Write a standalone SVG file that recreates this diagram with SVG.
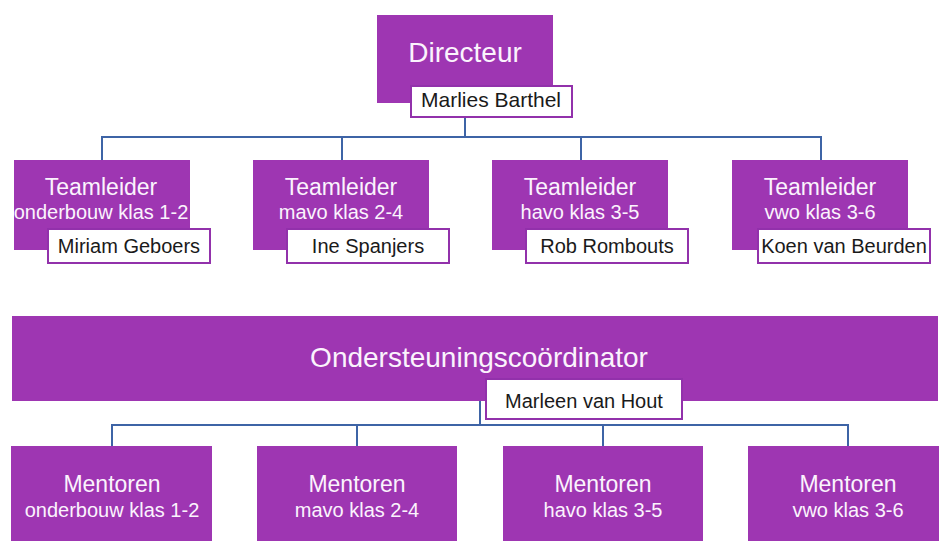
<svg xmlns="http://www.w3.org/2000/svg" width="939" height="541" viewBox="0 0 939 541">
<style>
.box{fill:#9e36b2}
.nb{fill:#ffffff;stroke:#9231ab;stroke-width:2}
.t1{font-family:"Liberation Sans",Arial,sans-serif;font-size:23px;fill:#fbf3fd;text-anchor:middle}
.t2{font-family:"Liberation Sans",Arial,sans-serif;font-size:20px;fill:#fbf3fd;text-anchor:middle}
.nm{font-family:"Liberation Sans",Arial,sans-serif;font-size:20px;fill:#1a1a1a;text-anchor:middle}
.big{font-family:"Liberation Sans",Arial,sans-serif;font-size:28px;fill:#fbf3fd;text-anchor:middle}
.cn{fill:none;stroke:#3e64a6;stroke-width:2}
</style>
<rect width="939" height="541" fill="#ffffff"/>
<g id="connectors">
<path class="cn" d="M465 117V137M102 160V137H821V160M342 137V160M581 137V160"/>
<path class="cn" d="M480 401V425M112 446V425H848V446M357 425V446M603 425V446"/>
</g>
<g id="directeur">
<rect class="box" x="377" y="15" width="176" height="88"/>
<text class="big" x="465" y="62" font-size="27">Directeur</text>
<rect class="nb" x="411" y="86" width="161" height="31"/>
<text class="nm" x="491" y="107" style="font-size:21px">Marlies Barthel</text>
</g>
<g id="teamleider1">
<rect class="box" x="14" y="160" width="176" height="90"/>
<text class="t1" x="101" y="195">Teamleider</text>
<text class="t2" x="101" y="219">onderbouw klas 1-2</text>
<rect class="nb" x="48" y="229" width="162" height="34"/>
<text class="nm" x="129" y="253">Miriam Geboers</text>
</g>
<g id="teamleider2">
<rect class="box" x="253" y="160" width="176" height="90"/>
<text class="t1" x="341" y="195">Teamleider</text>
<text class="t2" x="341" y="219">mavo klas 2-4</text>
<rect class="nb" x="287" y="229" width="162" height="34"/>
<text class="nm" x="368" y="253">Ine Spanjers</text>
</g>
<g id="teamleider3">
<rect class="box" x="492" y="160" width="176" height="90"/>
<text class="t1" x="580" y="195">Teamleider</text>
<text class="t2" x="580" y="219">havo klas 3-5</text>
<rect class="nb" x="526" y="229" width="162" height="34"/>
<text class="nm" x="607" y="253">Rob Rombouts</text>
</g>
<g id="teamleider4">
<rect class="box" x="732" y="160" width="176" height="90"/>
<text class="t1" x="820" y="195">Teamleider</text>
<text class="t2" x="820" y="219">vwo klas 3-6</text>
<rect class="nb" x="758" y="229" width="172" height="34"/>
<text class="nm" x="844" y="253">Koen van Beurden</text>
</g>
<g id="ondersteuning">
<rect class="box" x="12" y="316" width="926" height="85"/>
<text class="big" x="479" y="367">Ondersteuningscoördinator</text>
<rect class="nb" x="486" y="379" width="196" height="40"/>
<text class="nm" x="584" y="408">Marleen van Hout</text>
</g>
<g id="mentoren1">
<rect class="box" x="11" y="446" width="201" height="95"/>
<text class="t1" x="112" y="492">Mentoren</text>
<text class="t2" x="112" y="517">onderbouw klas 1-2</text>
</g>
<g id="mentoren2">
<rect class="box" x="257" y="446" width="200" height="95"/>
<text class="t1" x="357" y="492">Mentoren</text>
<text class="t2" x="357" y="517">mavo klas 2-4</text>
</g>
<g id="mentoren3">
<rect class="box" x="503" y="446" width="200" height="95"/>
<text class="t1" x="603" y="492">Mentoren</text>
<text class="t2" x="603" y="517">havo klas 3-5</text>
</g>
<g id="mentoren4">
<rect class="box" x="748" y="446" width="200" height="95"/>
<text class="t1" x="848" y="492">Mentoren</text>
<text class="t2" x="848" y="517">vwo klas 3-6</text>
</g>
</svg>
